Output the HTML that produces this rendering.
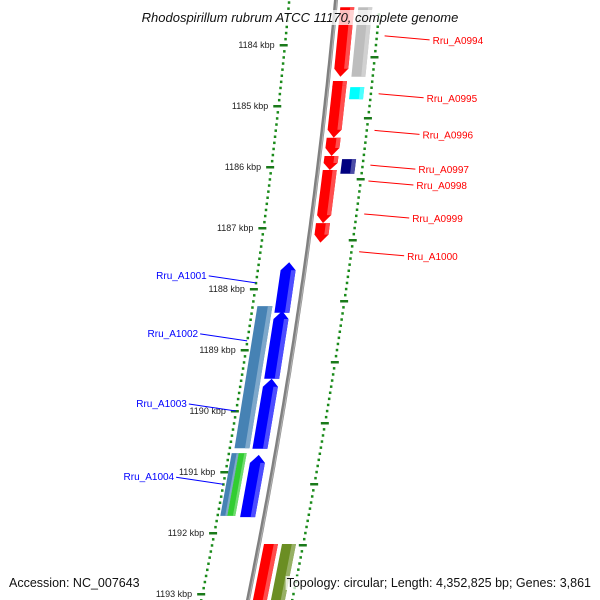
<!DOCTYPE html>
<html><head><meta charset="utf-8"><style>
html,body{margin:0;padding:0;background:#fff;}
svg{display:block;font-family:"Liberation Sans","DejaVu Sans",sans-serif;}
</style></head><body>
<svg id="map" width="600" height="600" viewBox="0 0 600 600" xmlns="http://www.w3.org/2000/svg">
<defs>
<linearGradient id="gBack" x1="0" x2="1" y1="0" y2="0"><stop offset="0" stop-color="#555"/><stop offset="0.5" stop-color="#aaa"/><stop offset="1" stop-color="#666"/></linearGradient>
</defs>
<g id="ticks"></g>
<g id="genes"></g>
<g id="labels"></g>
</svg>
<script>
const kbpLabels = ["1184 kbp","1185 kbp","1186 kbp","1187 kbp","1188 kbp","1189 kbp","1190 kbp","1191 kbp","1192 kbp","1193 kbp"];
const kbpValues = [1184,1185,1186,1187,1188,1189,1190,1191,1192,1193];
// genes: [startKbp, endKbp] mapped onto vertical position
const geneNames = ["red1","red2","red3","red4","red5","red6","red7","grey1","cyan1","navy1","blue1","blue2","blue3","blue4","steel1","steel2","green1","red8","olive1"];
const geneStart = [1183.38,1184.59,1184.66,1185.52,1185.82,1186.05,1186.92,1183.38,1184.69,1185.87,1187.56,1188.36,1189.47,1190.72,1188.28,1190.69,1190.69,1192.18,1192.18];
const geneEnd   = [1184.52,1184.79,1185.52,1185.82,1186.05,1186.92,1187.24,1184.52,1184.89,1186.11,1188.39,1189.47,1190.62,1191.74,1190.61,1191.72,1191.72,1193.15,1193.15];
const geneStrand= [-1,-1,-1,-1,-1,-1,-1,0,0,0,1,1,1,1,0,0,0,0,0];
const geneColor = ["#ff0000","#ff0000","#ff0000","#ff0000","#ff0000","#ff0000","#ff0000","#bdbdbd","#00ffff","#000080","#0000ff","#0000ff","#0000ff","#0000ff","#4682b4","#4682b4","#32cd32","#ff0000","#6b8e23"];
const geneLane  = [0,0,0,0,0,0,0,1,1,1,-1,-1,-1,-1,-2,-2.5,-1.5,0,1];
const rightLabels = ["Rru_A0994","Rru_A0995","Rru_A0996","Rru_A0997","Rru_A0998","Rru_A0999","Rru_A1000"];
const rightLabelKbp = [1183.85,1184.8,1185.4,1185.97,1186.23,1186.77,1187.39];
const leftLabels = ["Rru_A1001","Rru_A1002","Rru_A1003","Rru_A1004"];
const leftLabelKbp = [1187.9,1188.85,1190.0,1191.2];

const NS="http://www.w3.org/2000/svg";
function yOf(k){return 45+(k-1184)*61;}
function cx(y){return 336-0.0915*y-0.000092*y*y;}
function mk(tag,attrs,parent){const e=document.createElementNS(NS,tag);for(const k in attrs)e.setAttribute(k,attrs[k]);parent.appendChild(e);return e;}
const svg=document.getElementById('map');
const T=document.getElementById('ticks'),G=document.getElementById('genes'),L=document.getElementById('labels');

// backbone
let d="";for(let y=-5;y<=605;y+=5){d+=(y===-5?"M":"L")+(cx(y)).toFixed(1)+","+y;}
const bb=mk('path',{d:d,fill:'none',stroke:'#808080','stroke-width':4},G);


const bb2=mk('path',{d:d,fill:'none',stroke:'#b0b0b0','stroke-width':1.2,transform:'translate(1,0)'},G);



// minor dots
for(let k=1183.3;k<=1193.2;k+=0.1){
  const y=yOf(k);
  const d1=mk('rect',{x:cx(y)-48,y:y-1,width:2.5,height:2.5,fill:'#1a8a1a'},T);
  
  
  const y2=y+12;
  const d2=mk('rect',{x:cx(y2)+43,y:y2-1,width:2.5,height:2.5,fill:'#1a8a1a'},T);
  
  
}
// major ticks
kbpValues.forEach((v,i)=>{
  const y=yOf(v);const x=cx(y)-48;
  const t=mk('rect',{x:x-4,y:y-1,width:8,height:2.5,fill:'#1a7a1a'},T);
  
  
  const tx=mk('text',{x:x-9,y:y+3,'font-size':9,'text-anchor':'end',fill:'#222'},T);
  tx.textContent=kbpLabels[i];
  
  
  const y2=y+12;const x2=cx(y2)+43;
  const t2=mk('rect',{x:x2-3,y:y2-1,width:8,height:2.5,fill:'#1a7a1a'},T);
  
  
});

// genes
const laneOff={"0":[5,19],"1":[23,37],"-1":[-24,-9],"-2":[-42,-27],"-2.5":[-44,-37],"-1.5":[-37,-29]};
function shade(c,f){const n=parseInt(c.slice(1),16);let r=n>>16,g=(n>>8)&255,b=n&255;r=Math.min(255,Math.round(r+(255-r)*f));g=Math.min(255,Math.round(g+(255-g)*f));b=Math.min(255,Math.round(b+(255-b)*f));return `rgb(${r},${g},${b})`;}
geneNames.forEach((nm,i)=>{
  const y1=yOf(geneStart[i]),y2=yOf(geneEnd[i]);
  const [o1,o2]=laneOff[String(geneLane[i])];
  const s=geneStrand[i];const head=Math.min(8,(y2-y1)*0.5);
  let pts;
  const P=(y,o)=>[(cx(y)+o).toFixed(1),y.toFixed(1)].join(',');
  if(s===-1){pts=[P(y1,o1),P(y1,o2),P(y2-head,o2),P(y2,(o1+o2)/2),P(y2-head,o1)];}
  else if(s===1){pts=[P(y1,(o1+o2)/2),P(y1+head,o2),P(y2,o2),P(y2,o1),P(y1+head,o1)];}
  else {pts=[P(y1,o1),P(y1,o2),P(y2,o2),P(y2,o1)];}
  const g=mk('polygon',{points:pts.join(' '),fill:geneColor[i]},G);
  
  
  const w=o2-o1;const hp=[P(y1+(s===1?head:0),o2-w*0.3),P(y1+(s===1?head:0),o2),P(y2-(s===-1?head:0),o2),P(y2-(s===-1?head:0),o2-w*0.3)];
  const h=mk('polygon',{points:hp.join(' '),fill:shade(geneColor[i],0.3)},G);
  
  
});

// labels
rightLabels.forEach((nm,i)=>{
  const y=yOf(rightLabelKbp[i]);const x=cx(y)+52;
  const l=mk('line',{x1:x,y1:y,x2:x+45,y2:y+4,stroke:'#ff0000','stroke-width':1},L);
  
  
  const t=mk('text',{x:x+48,y:y+8,'font-size':10,fill:'#ff0000'},L);
  t.textContent=nm;
  
  
});
leftLabels.forEach((nm,i)=>{
  const y=yOf(leftLabelKbp[i]);const x=cx(y)-47;
  const l=mk('line',{x1:x,y1:y,x2:x-47,y2:y-7,stroke:'#0000ff','stroke-width':1},L);
  
  
  const t=mk('text',{x:x-49,y:y-4,'font-size':10,fill:'#0000ff','text-anchor':'end'},L);
  t.textContent=nm;
  
  
});

// title and footer
function boxText(txt,x,y,anchor,name,extra){
  const t=mk('text',Object.assign({x:x,y:y,'font-size':12.5,fill:'#111','text-anchor':anchor},extra||{}),svg);
  t.textContent=txt;
  const b=t.getBBox();
  const r=document.createElementNS(NS,'rect');
  r.setAttribute('x',b.x-1);r.setAttribute('y',b.y);r.setAttribute('width',b.width+2);r.setAttribute('height',b.height);
  r.setAttribute('fill','rgba(255,255,255,0.75)');
  
  
  svg.insertBefore(r,t);
  
  
}
boxText("Rhodospirillum rubrum ATCC 11170, complete genome",300,22,'middle','chart-title',{'font-style':'italic','font-size':13});
boxText("Accession: NC_007643",9,587,'start','accession-text');
boxText("Topology: circular; Length: 4,352,825 bp; Genes: 3,861",591,587,'end','topology-text');
</script>
</body></html>
